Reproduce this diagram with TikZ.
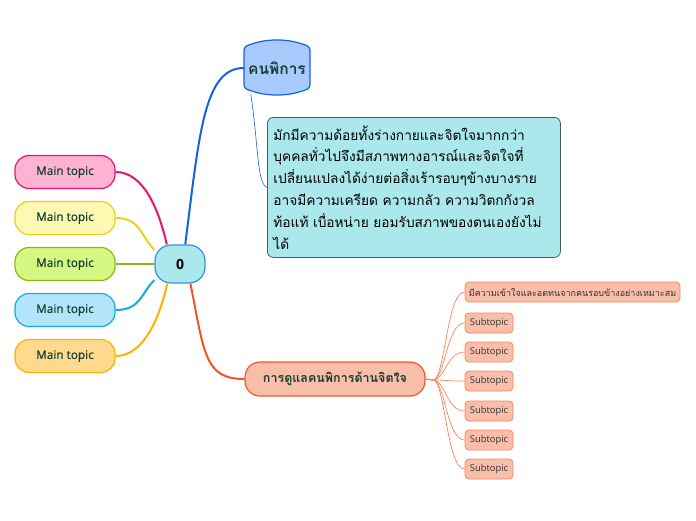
\documentclass[tikz,border=0pt]{standalone}
\usepackage{fontspec}
\setmainfont{Open Sans}
\newfontfamily\semifont[FakeBold=0.7]{Open Sans}
\newfontfamily\thaifont[Script=Thai]{Loma}
\definecolor{mmink}{RGB}{22,64,50}
\definecolor{mmpink}{RGB}{255,178,210}
\definecolor{mmpink4}{RGB}{236,18,112}
\definecolor{mmyellow}{RGB}{255,248,178}
\definecolor{mmyellow4}{RGB}{232,208,32}
\definecolor{mmgreen}{RGB}{214,248,130}
\definecolor{mmgreen4}{RGB}{136,186,16}
\definecolor{mmsky}{RGB}{178,228,250}
\definecolor{mmsky4}{RGB}{18,170,232}
\definecolor{mmgold}{RGB}{255,218,142}
\definecolor{mmgold4}{RGB}{255,178,0}
\definecolor{mmcyan}{RGB}{170,232,236}
\definecolor{mmcyan4}{RGB}{52,150,218}
\definecolor{mmblue}{RGB}{168,202,255}
\definecolor{mmblue4}{RGB}{18,100,222}
\definecolor{mmgrey4}{RGB}{70,92,92}
\definecolor{mmsalmon}{RGB}{249,190,170}
\definecolor{mmsalmon4}{RGB}{240,86,34}
\definecolor{mmsalmon3}{RGB}{250,132,92}
\usetikzlibrary{positioning,calc}

\begin{document}
\begin{tikzpicture}[x=1pt,y=-1pt,
  mainbox/.style={draw,line width=1.2pt,rounded corners=14pt,minimum width=100pt,
    minimum height=33pt,inner sep=0pt,font=\semifont\fontsize{11.8}{13}\selectfont,text=mmink},
  subbox/.style={draw=mmsalmon3,fill=mmsalmon,line width=0.8pt,rounded corners=4pt,
    minimum height=20pt,inner sep=0pt,font=\fontsize{9.4}{11}\selectfont,text=black!80},
  branch/.style={line width=2pt},
  twig/.style={draw=mmsalmon3,line width=0.7pt}
]
  \useasboundingbox (0,0) rectangle (696,520);
  % central topic
  \node[draw=mmcyan4,fill=mmcyan,line width=1.2pt,rounded corners=16pt,minimum width=50pt,
    minimum height=38pt,inner sep=0pt,font=\fontsize{14}{16}\selectfont\bfseries] (ctr) at (180,264) {0};
  % main topics on the left
  \node[mainbox,draw=mmpink4,fill=mmpink] (m1) at (65,172) {Main topic};
  \node[mainbox,draw=mmyellow4,fill=mmyellow] (m2) at (65,218) {Main topic};
  \node[mainbox,draw=mmgreen4,fill=mmgreen] (m3) at (65,264) {Main topic};
  \node[mainbox,draw=mmsky4,fill=mmsky] (m4) at (65,310) {Main topic};
  \node[mainbox,draw=mmgold4,fill=mmgold] (m5) at (65,356) {Main topic};
  \draw[branch,mmpink4] (ctr.124) .. controls +(-8,-35) and +(28,0) .. (m1.east);
  \draw[branch,mmyellow4] (ctr.151) .. controls +(-14,-14) and +(25,0) .. (m2.east);
  \draw[branch,mmgreen4] (ctr.west) -- (m3.east);
  \draw[branch,mmsky4] (ctr.212) .. controls +(-14,14) and +(25,0) .. (m4.east);
  \draw[branch,mmgold4] (ctr.237) .. controls +(-8,35) and +(28,0) .. (m5.east);
  % cylinder topic
  \draw[draw=mmblue4,fill=mmblue,line width=1.2pt,rounded corners=3pt]
    (244,47) .. controls (265,38) and (289,38) .. (310,47) -- (310,88)
    .. controls (289,97) and (265,97) .. (244,88) -- cycle;
  \node[minimum width=66pt,minimum height=52pt,inner sep=0pt,text=mmink,
    font=\thaifont\fontsize{15.5}{17}\selectfont\bfseries] (disab) at (277,68) {คนพิการ};
  \draw[branch,mmblue4] (ctr.75) .. controls +(14,-110) and +(-40,0) .. (disab.west);
  % note
  \node[draw=mmgrey4,fill=mmcyan,line width=0.8pt,rounded corners=6pt,anchor=north west,
    minimum width=293pt,minimum height=140pt,text width=281pt,inner sep=6pt,align=left,
    font=\thaifont\fontsize{13.7}{21.8}\selectfont,text=black] (note) at (267,117)
    {มักมีความด้อยทั้งร่างกายและจิตใจมากกว่า\\
     บุคคลทั่วไปจึงมีสภาพทางอารณ์และจิตใจที่\\
     เปลี่ยนแปลงได้ง่ายต่อสิ่งเร้ารอบๆข้างบางราย\\
     อาจมีความเครียด ความกลัว ความวิตกกังวล\\
     ท้อแท้ เบื่อหน่าย ยอมรับสภาพของตนเองยังไม่\\
     ได้};
  \draw[mmblue4,line width=0.6pt] (disab.225) .. controls +(8,55) and +(-10,-4) .. (note.west);
  % care topic
  \node[draw=mmsalmon4,fill=mmsalmon,line width=1.2pt,rounded corners=15pt,minimum width=180pt,
    minimum height=34pt,inner sep=0pt,text=mmink,
    font=\thaifont\fontsize{12.5}{14}\selectfont\bfseries] (care) at (335,379) {การดูแลคนพิการด้านจิตใจ};
  \draw[branch,mmsalmon4] (ctr.298) .. controls +(14,70) and +(-40,0) .. (care.west);
  % subtopics
  \node[subbox,minimum width=215pt,font=\thaifont\fontsize{9}{11}\selectfont] (s0) at (572.5,292)
    {มีความเข้าใจและอดทนจากคนรอบข้างอย่างเหมาะสม};
  \node[subbox,minimum width=48pt] (s1) at (489,323) {Subtopic};
  \node[subbox,minimum width=48pt] (s2) at (489,352) {Subtopic};
  \node[subbox,minimum width=48pt] (s3) at (489,381) {Subtopic};
  \node[subbox,minimum width=48pt] (s4) at (489,411) {Subtopic};
  \node[subbox,minimum width=48pt] (s5) at (489,440) {Subtopic};
  \node[subbox,minimum width=48pt] (s6) at (489,469) {Subtopic};
  \coordinate (hub) at (433,380);
  \draw[twig,line width=1.5pt] (care.east) -- (hub);
  \foreach \s in {s0,s1,s2,s3,s4,s5,s6}
    \draw[twig] (hub) .. controls +(12,0) and +(-18,0) .. (\s.west);
\end{tikzpicture}
\end{document}
